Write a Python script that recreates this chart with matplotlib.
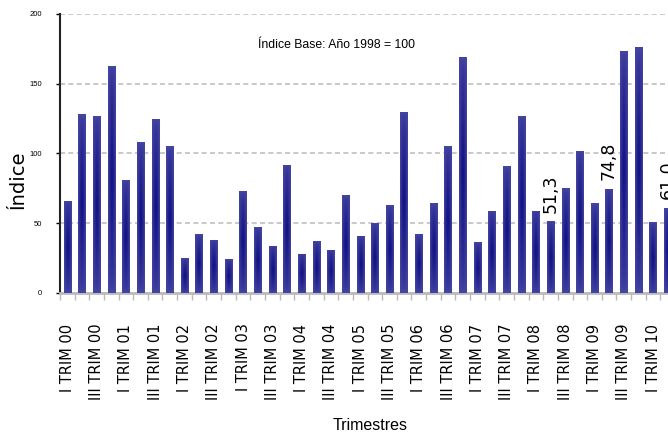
import numpy as np
import matplotlib.pyplot as plt
from matplotlib.colors import LinearSegmentedColormap

# Indice trimestral, base 1998 = 100
trimestres = [f"{q} TRIM {y:02d}" for y in range(0, 11) for q in ["I", "II", "III", "IV"]][:42]
valores = [66, 128, 127, 163, 81, 108, 125, 105, 25, 42, 38, 24, 73, 47, 34, 92,
           28, 37, 31, 70, 41, 50, 63, 130, 42, 64.5, 105, 169, 36.5, 59, 91, 127,
           59, 51.3, 75, 102, 64.5, 74.8, 173.5, 176, 50.5, 61.0]
etiquetas = {"II TRIM 08": "51,3", "II TRIM 09": "74,8", "II TRIM 10": "61,0"}

narrow = ['Liberation Sans Narrow', 'Liberation Sans', 'DejaVu Sans']

fig = plt.figure(figsize=(6.68, 4.34), dpi=100)
ax = fig.add_axes([0.0898, 0.325, 0.9207, 0.643])

x = np.arange(len(valores))
bars = ax.bar(x, valores, width=0.5, color='none', zorder=3)

cmap = LinearSegmentedColormap.from_list('barra', ['#4444a2', '#0e0e80'])
u = np.linspace(0, 1, 20)
v = np.linspace(0, 1, 60)
U, V = np.meshgrid(u, v)
grad = (1 - np.abs(2 * U - 1)) ** 0.7 * (1 - np.abs(2 * V - 1)) ** 0.6
for b in bars:
    x0, w, h = b.get_x(), b.get_width(), b.get_height()
    im = ax.imshow(grad, cmap=cmap, extent=[x0, x0 + w, 0, h], aspect='auto',
                   origin='lower', zorder=3, vmin=0, vmax=1)
    im.set_clip_path(b)

ax.set_xlim(-0.5, len(valores) - 0.5)
ax.set_ylim(0, 200)
ax.set_yticks([0, 50, 100, 150, 200])
ax.set_yticklabels(['0', '50', '100', '150', '200'], fontsize=5.5, family=narrow)
ax.yaxis.grid(True, linestyle=(0, (3, 2)), color='#c0c0c0', linewidth=1.2, zorder=1)

ax.set_xticks(x[::2])
ax.set_xticklabels(trimestres[::2], rotation=90, fontsize=10.5, family='DejaVu Sans',
                   va='top', ha='center')
ax.tick_params(axis='x', which='major', length=0, pad=22)
ax.set_xticks(np.arange(len(valores) + 1) - 0.5, minor=True)
ax.tick_params(axis='x', which='minor', length=5, color='#bbbbbb', width=1)
ax.tick_params(axis='y', length=3, width=1, pad=10)

for s in ['top', 'right']:
    ax.spines[s].set_visible(False)
ax.spines['left'].set_color('#222222')
ax.spines['left'].set_linewidth(1.5)
ax.spines['bottom'].set_color('#bbbbbb')
ax.spines['bottom'].set_linewidth(2)

for i, t in enumerate(trimestres):
    if t in etiquetas:
        ax.text(i, valores[i] + 6, etiquetas[t], rotation=90, ha='center', va='bottom',
                fontsize=12.5, family='DejaVu Sans', zorder=4)

ax.text(0.45, 177.8, 'Índice Base: Año 1998 = 100', transform=ax.get_yaxis_transform(),
        ha='center', va='center', fontsize=8.8, family=narrow)
fig.text(18 / 668, 1 - 180 / 434, 'Índice', rotation=90, ha='center', va='center',
         fontsize=14, family='DejaVu Sans')
fig.text(370 / 668, 1 - 425 / 434, 'Trimestres', ha='center', va='center',
         fontsize=11.5, family=narrow)

fig.savefig('out.png', dpi=100)
